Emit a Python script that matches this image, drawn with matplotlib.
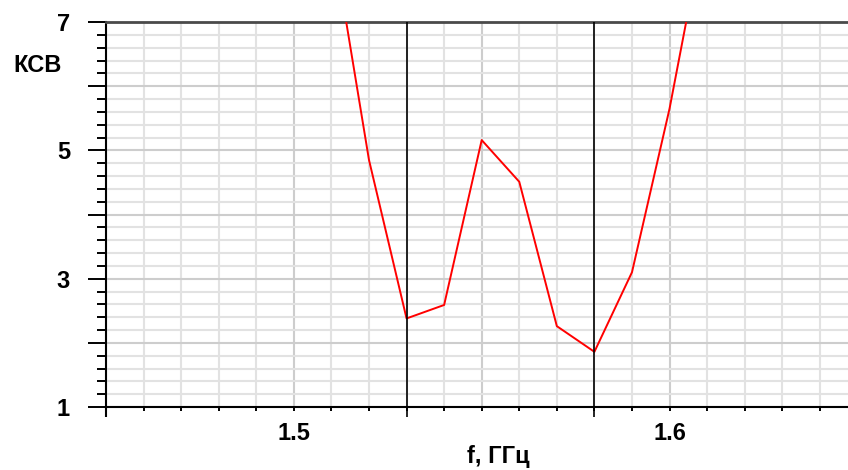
import matplotlib
matplotlib.use("Agg")
import matplotlib.pyplot as plt
from matplotlib.ticker import MultipleLocator, FixedLocator, FuncFormatter

plt.rcParams["font.family"] = ["Liberation Sans", "DejaVu Sans"]
plt.rcParams["font.weight"] = "bold"

# КСВ от частоты, шаг 0.01 ГГц
f_ghz = [1.51, 1.52, 1.53, 1.54, 1.55, 1.56, 1.57, 1.58, 1.59, 1.60, 1.61]
ksv = [8.4, 4.85, 2.38, 2.59, 5.16, 4.51, 2.26, 1.86, 3.1, 5.65, 8.7]
markers_f = [1.53, 1.58]  # границы полосы
y_labels = [1, 3, 5, 7]

fig = plt.figure(figsize=(8.48, 4.70), dpi=100)
ax = fig.add_axes([106 / 848, 1 - 407 / 470, 1 - 106 / 848, (407 - 22) / 470])

ax.set_xlim(1.45, 1.6475)
ax.set_ylim(1, 7)

# сетка
ax.xaxis.set_minor_locator(MultipleLocator(0.01))
ax.yaxis.set_minor_locator(MultipleLocator(0.2))
for x in [1.45 + 0.01 * i for i in range(20)]:
    c = "#cdcdcd" if round(x * 100) % 5 == 0 else "#e2e2e2"
    ax.axvline(x, color=c, lw=1.5, zorder=0)
for y in [1 + 0.2 * i for i in range(31)]:
    c = "#cdcdcd" if abs(y - round(y)) < 1e-6 else "#e2e2e2"
    ax.axhline(y, color=c, lw=1.5, zorder=0)

ax.plot(f_ghz, ksv, color="#ff0000", lw=1.4, zorder=3)

for xm in markers_f:
    ax.vlines(xm, -0.025, 1, transform=ax.get_xaxis_transform(),
              color="black", lw=1.2, clip_on=False, zorder=4)
ax.vlines(1.45, -0.025, 0, transform=ax.get_xaxis_transform(),
          color="black", lw=1.5, clip_on=False)

# оси
ax.xaxis.set_major_locator(FixedLocator([1.5, 1.6]))
ax.yaxis.set_major_locator(MultipleLocator(1))
ax.yaxis.set_major_formatter(
    FuncFormatter(lambda v, p: f"{int(round(v))}" if int(round(v)) in y_labels else ""))
ax.tick_params(axis="y", which="major", length=13, width=1.4, direction="out",
               labelsize=17, pad=13)
ax.tick_params(axis="y", which="minor", length=6.5, width=1.4, direction="out")
ax.tick_params(axis="x", which="both", length=3, width=1.4, direction="out",
               labelsize=17, pad=8)
for lbl in ax.get_xticklabels() + ax.get_yticklabels():
    lbl.set_fontweight("bold")

ax.spines["right"].set_visible(False)
ax.spines["left"].set_linewidth(1.5)
ax.spines["bottom"].set_linewidth(1.5)
ax.spines["top"].set_color("#4a4a4a")
ax.spines["top"].set_linewidth(2)

fig.text(38 / 848, 1 - 66 / 470, "КСВ", fontsize=17, fontweight="bold",
         ha="center", va="center")
fig.text(498 / 848, 1 - 445 / 470, "f, ГГц", fontsize=17, fontweight="bold",
         ha="center", va="top")

fig.savefig("out.png", dpi=100)
